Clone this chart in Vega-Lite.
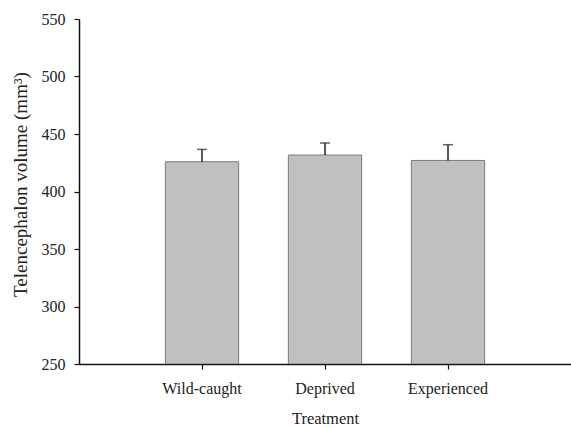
{
  "$schema": "https://vega.github.io/schema/vega-lite/v6.json",
  "autosize": "none",
  "padding": {"left": 79, "top": 19, "right": 0, "bottom": 64},
  "width": 492,
  "height": 345,
  "background": "white",
  "config": {
    "view": {"stroke": null},
    "font": "Liberation Serif",
    "axis": {
      "labelFont": "Liberation Serif",
      "titleFont": "Liberation Serif",
      "labelFontSize": 16,
      "titleFontSize": 16,
      "titleFontWeight": "normal",
      "labelColor": "#222",
      "titleColor": "#222",
      "domainColor": "#111",
      "domainWidth": 1.5,
      "tickColor": "#111",
      "tickWidth": 1.2,
      "tickSize": 5,
      "grid": false
    }
  },
  "data": {
    "values": [
      {"treatment": "Wild-caught", "volume": 425.9, "upper": 436.6},
      {"treatment": "Deprived", "volume": 431.7, "upper": 442.2},
      {"treatment": "Experienced", "volume": 427.0, "upper": 440.7}
    ]
  },
  "encoding": {
    "x": {
      "field": "treatment",
      "type": "nominal",
      "sort": null,
      "scale": {"paddingInner": 0.404, "paddingOuter": 0.702},
      "axis": {"title": "Treatment", "labelAngle": 0, "labelPadding": 11, "titlePadding": 14, "titleFontSize": 16.5}
    }
  },
  "layer": [
    {
      "mark": {"type": "bar", "fill": "#c0c0c0", "stroke": "#7a7a7a", "strokeWidth": 1, "clip": true},
      "encoding": {
        "y": {
          "field": "volume",
          "type": "quantitative",
          "scale": {"domain": [250, 550], "zero": false, "nice": false},
          "axis": {"title": "Telencephalon volume (mm³)", "values": [250, 300, 350, 400, 450, 500, 550], "labelPadding": 9, "titleFontSize": 19, "titleX": -59, "titleY": 165, "titleBaseline": "middle"}
        },
        "y2": {"datum": 250}
      }
    },
    {
      "mark": {"type": "rule", "color": "#222", "strokeWidth": 1.5},
      "encoding": {
        "y": {"field": "volume", "type": "quantitative"},
        "y2": {"field": "upper"}
      }
    },
    {
      "mark": {"type": "tick", "color": "#222", "size": 10, "thickness": 1.5},
      "encoding": {
        "y": {"field": "upper", "type": "quantitative"}
      }
    }
  ]
}
